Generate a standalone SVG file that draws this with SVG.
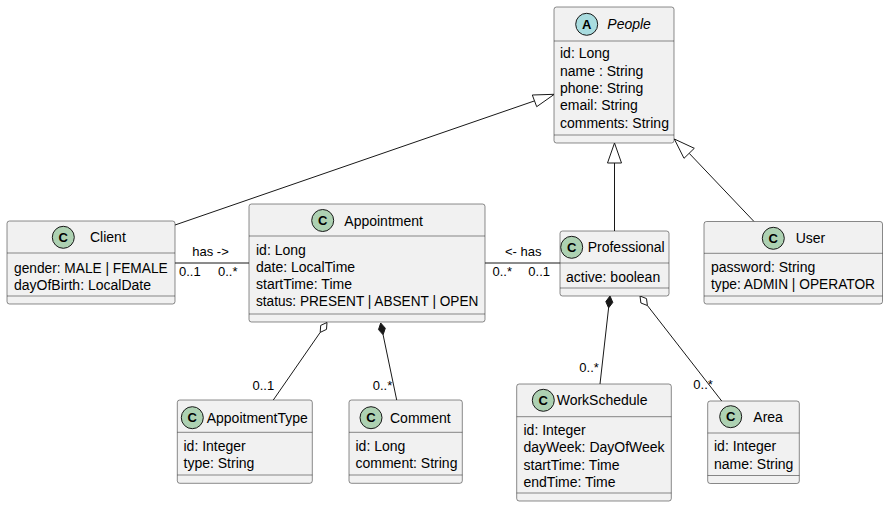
<svg xmlns="http://www.w3.org/2000/svg" width="888" height="507" viewBox="0 0 888 507">
<style>
.box{fill:#F1F1F1;stroke:#181818;stroke-width:0.5}
.sep{stroke:#181818;stroke-width:0.5}
.ci{fill:#ADD1B2;stroke:#181818;stroke-width:1}
.ca{fill:#A9DCDF;stroke:#181818;stroke-width:1}
.ic{font-family:"Liberation Sans",Arial,sans-serif;font-size:13px;font-weight:bold;fill:#000;text-anchor:middle}
.nm{font-family:"Liberation Sans",Arial,sans-serif;font-size:14px;fill:#000}
.at{font-family:"Liberation Sans",Arial,sans-serif;font-size:14px;fill:#000}
.lb{font-family:"Liberation Sans",Arial,sans-serif;font-size:13px;fill:#000}
.ln{fill:none;stroke:#181818;stroke-width:1}
.tri{fill:#FFFFFF;stroke:#181818;stroke-width:1}
.dh{fill:#FFFFFF;stroke:#181818;stroke-width:1}
.df{fill:#181818;stroke:#181818;stroke-width:1}
</style>
<rect width="888" height="507" fill="#FFFFFF"/>

<g id="connectors">
  <!-- Client -> People generalization -->
  <line class="ln" x1="175" y1="225" x2="534.5" y2="100.9"/>
  <polygon class="tri" points="554.3,94.3 532.3,95 536.7,106.7"/>
  <!-- Professional -> People -->
  <line class="ln" x1="614.5" y1="163" x2="614.5" y2="231"/>
  <polygon class="tri" points="614.5,143 607.5,163 621.5,163"/>
  <!-- User -> People -->
  <line class="ln" x1="689.2" y1="153.3" x2="754" y2="221.5"/>
  <polygon class="tri" points="674.3,139 694.3,148.3 684,158.3"/>
  <!-- Client - Appointment -->
  <line class="ln" x1="175" y1="263" x2="249" y2="263"/>
  <text class="lb" x="192.3" y="256">has -&gt;</text>
  <text class="lb" x="179" y="276">0..1</text>
  <text class="lb" x="218" y="276">0..*</text>
  <!-- Appointment - Professional -->
  <line class="ln" x1="485" y1="263" x2="560" y2="263"/>
  <text class="lb" x="505" y="256">&lt;- has</text>
  <text class="lb" x="492.5" y="276">0..*</text>
  <text class="lb" x="528.3" y="276">0..1</text>
  <!-- Appointment o- AppoitmentType -->
  <polygon class="dh" points="327,322.5 326.5,329.4 320.2,332.4 320.7,325.4"/>
  <line class="ln" x1="320.2" y1="332.4" x2="273.3" y2="400"/>
  <text class="lb" x="252.5" y="390">0..1</text>
  <!-- Appointment *- Comment -->
  <polygon class="df" points="380.7,323 385.3,328.2 383.1,334.8 378.5,329.6"/>
  <line class="ln" x1="383.1" y1="334.8" x2="396.7" y2="400"/>
  <text class="lb" x="372.7" y="390">0..*</text>
  <!-- Professional *- WorkSchedule -->
  <polygon class="df" points="610,296 612.8,302.4 608.6,307.9 605.8,301.6"/>
  <line class="ln" x1="608.6" y1="307.9" x2="600" y2="384"/>
  <text class="lb" x="579.3" y="371.5">0..*</text>
  <!-- Professional o- Area -->
  <polygon class="dh" points="640,296 646.5,298.6 647.4,305.5 640.9,303"/>
  <line class="ln" x1="647.4" y1="305.5" x2="721.7" y2="401"/>
  <text class="lb" x="693.3" y="389.3">0..*</text>
</g>

<g id="People">
  <rect class="box" x="554" y="7" width="120" height="136" rx="2.5"/>
  <circle class="ca" cx="586.7" cy="24.3" r="11"/>
  <text class="ic" x="586.7" y="29">A</text>
  <text class="nm" x="607.3" y="29.3" font-style="italic">People</text>
  <line class="sep" x1="554" y1="41" x2="674" y2="41"/>
  <text class="at" x="560" y="58.3">id: Long</text>
  <text class="at" x="560" y="75.6">name : String</text>
  <text class="at" x="560" y="92.9">phone: String</text>
  <text class="at" x="560" y="110.2">email: String</text>
  <text class="at" x="560" y="127.5">comments: String</text>
  <line class="sep" x1="554" y1="135" x2="674" y2="135"/>
</g>

<g id="Client">
  <rect class="box" x="7" y="221" width="168" height="83" rx="2.5"/>
  <circle class="ci" cx="63.3" cy="237.3" r="11"/>
  <text class="ic" x="63.3" y="242">C</text>
  <text class="nm" x="90" y="242">Client</text>
  <line class="sep" x1="7" y1="253" x2="175" y2="253"/>
  <text class="at" x="14" y="272.5" textLength="153.7" lengthAdjust="spacingAndGlyphs">gender: MALE | FEMALE</text>
  <text class="at" x="14" y="289.8">dayOfBirth: LocalDate</text>
  <line class="sep" x1="7" y1="296" x2="175" y2="296"/>
</g>

<g id="Appointment">
  <rect class="box" x="249" y="204" width="236" height="118" rx="2.5"/>
  <circle class="ci" cx="322.7" cy="220.5" r="11"/>
  <text class="ic" x="322.7" y="225.2">C</text>
  <text class="nm" x="344.3" y="225.7">Appointment</text>
  <line class="sep" x1="249" y1="236" x2="485" y2="236"/>
  <text class="at" x="256" y="254.5">id: Long</text>
  <text class="at" x="256" y="271.8">date: LocalTime</text>
  <text class="at" x="256" y="289.1">startTime: Time</text>
  <text class="at" x="256" y="306.4" textLength="222.3" lengthAdjust="spacingAndGlyphs">status: PRESENT | ABSENT | OPEN</text>
  <line class="sep" x1="249" y1="314" x2="485" y2="314"/>
</g>

<g id="Professional">
  <rect class="box" x="560" y="231" width="109" height="65" rx="2.5"/>
  <circle class="ci" cx="571.7" cy="247.3" r="11"/>
  <text class="ic" x="571.7" y="252">C</text>
  <text class="nm" x="587.7" y="252.3">Professional</text>
  <line class="sep" x1="560" y1="263" x2="669" y2="263"/>
  <text class="at" x="566" y="281.5">active: boolean</text>
  <line class="sep" x1="560" y1="288" x2="669" y2="288"/>
</g>

<g id="User">
  <rect class="box" x="704" y="221.5" width="178.5" height="82.5" rx="2.5"/>
  <circle class="ci" cx="773.3" cy="238.3" r="11"/>
  <text class="ic" x="773.3" y="243">C</text>
  <text class="nm" x="795.7" y="243.3">User</text>
  <line class="sep" x1="704" y1="253.3" x2="882.5" y2="253.3"/>
  <text class="at" x="711" y="272">password: String</text>
  <text class="at" x="711" y="289.3" textLength="164" lengthAdjust="spacingAndGlyphs">type: ADMIN | OPERATOR</text>
  <line class="sep" x1="704" y1="296" x2="882.5" y2="296"/>
</g>

<g id="AppoitmentType">
  <rect class="box" x="177.3" y="400" width="135" height="83.3" rx="2.5"/>
  <circle class="ci" cx="192.3" cy="417.7" r="11"/>
  <text class="ic" x="192.3" y="422.4">C</text>
  <text class="nm" x="206.7" y="422.7">AppoitmentType</text>
  <line class="sep" x1="177.3" y1="432.3" x2="312.3" y2="432.3"/>
  <text class="at" x="183.5" y="451">id: Integer</text>
  <text class="at" x="183.5" y="468.3">type: String</text>
  <line class="sep" x1="177.3" y1="475" x2="312.3" y2="475"/>
</g>

<g id="Comment">
  <rect class="box" x="349" y="400" width="113.3" height="83.3" rx="2.5"/>
  <circle class="ci" cx="371" cy="417.7" r="11"/>
  <text class="ic" x="371" y="422.4">C</text>
  <text class="nm" x="390" y="422.7">Comment</text>
  <line class="sep" x1="349" y1="432.3" x2="462.3" y2="432.3"/>
  <text class="at" x="355.5" y="451">id: Long</text>
  <text class="at" x="355.5" y="468.3">comment: String</text>
  <line class="sep" x1="349" y1="475" x2="462.3" y2="475"/>
</g>

<g id="WorkSchedule">
  <rect class="box" x="516.7" y="384" width="154.6" height="117" rx="2.5"/>
  <circle class="ci" cx="543.3" cy="400.3" r="11"/>
  <text class="ic" x="543.3" y="405">C</text>
  <text class="nm" x="556.7" y="405.3">WorkSchedule</text>
  <line class="sep" x1="516.7" y1="416.7" x2="671.3" y2="416.7"/>
  <text class="at" x="523.5" y="435">id: Integer</text>
  <text class="at" x="523.5" y="452.3">dayWeek: DayOfWeek</text>
  <text class="at" x="523.5" y="469.6">startTime: Time</text>
  <text class="at" x="523.5" y="486.9">endTime: Time</text>
  <line class="sep" x1="516.7" y1="493" x2="671.3" y2="493"/>
</g>

<g id="Area">
  <rect class="box" x="707.7" y="401" width="91.6" height="82.5" rx="2.5"/>
  <circle class="ci" cx="730.7" cy="416.7" r="11"/>
  <text class="ic" x="730.7" y="421.4">C</text>
  <text class="nm" x="753.3" y="421.7">Area</text>
  <line class="sep" x1="707.7" y1="433" x2="799.3" y2="433"/>
  <text class="at" x="714" y="451.3">id: Integer</text>
  <text class="at" x="714" y="468.6">name: String</text>
  <line class="sep" x1="707.7" y1="475.5" x2="799.3" y2="475.5"/>
</g>
</svg>
